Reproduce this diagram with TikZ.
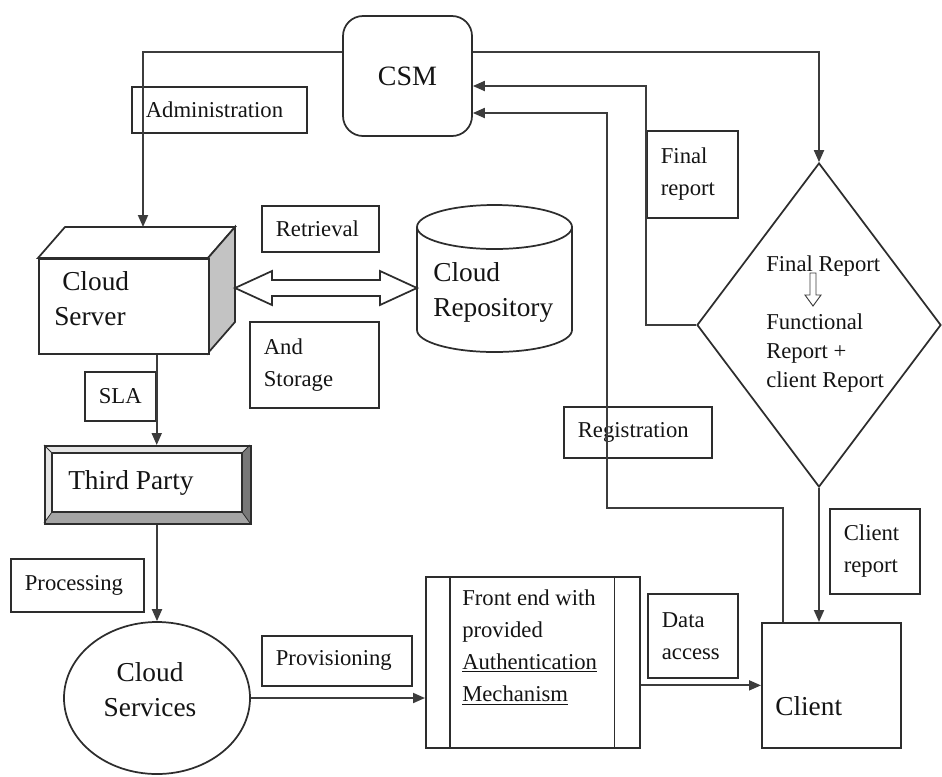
\documentclass[tikz,border=0pt]{standalone}
\usepackage{fontspec}
\setmainfont{Liberation Serif}
\usetikzlibrary{arrows.meta,calc,shapes.geometric}
\definecolor{ln}{RGB}{60,60,60}
\definecolor{bx}{RGB}{45,45,45}
\definecolor{txt}{RGB}{20,20,20}
\definecolor{sideg}{RGB}{195,195,195}
\definecolor{bevd}{RGB}{120,120,120}
\definecolor{bevm}{RGB}{165,165,165}
\definecolor{bevl}{RGB}{228,228,228}
\newcommand{\smallfnt}{\fontsize{17}{24}\selectfont\hyphenpenalty=10000 }
\newcommand{\bigfnt}{\fontsize{20.5}{26.5}\selectfont}
\newcommand{\fefnt}{\fontsize{17}{24.2}\selectfont}
\newcommand{\diafnt}{\fontsize{17}{21.75}\selectfont}
\newcommand{\csmfnt}{\fontsize{21}{25}\selectfont}
\begin{document}
\begin{tikzpicture}[x=0.75pt,y=-0.75pt,
  conn/.style={draw=ln, line width=1.4pt},
  arr/.style={conn, -{Triangle[length=9pt,width=7.5pt]}},
  lbl/.style 2 args={draw=bx, line width=1.3pt, inner xsep=10.5pt, inner ysep=0pt, align=left, anchor=north west, text width=#1, minimum height=#2, font=\smallfnt, text=txt},
  txtnode/.style={inner sep=0pt, text=txt, align=left},
  shp/.style={draw=bx, line width=1.3pt}
]
\fill[white] (0,0) rectangle (942,776);
\useasboundingbox (0,0) rectangle (942,776);

% CSM
\node[shp, rounded corners=15pt, minimum width=96.75pt, minimum height=90pt, font=\csmfnt, text=txt] (csm) at (407.5,76) {CSM};

% Cloud Server cube
\filldraw[shp, fill=white] (38,258) -- (65,227) -- (235,227) -- (208,258) -- cycle;
\filldraw[shp, fill=sideg] (208,258) -- (235,227) -- (235,322) -- (208,353) -- cycle;
\node[shp, fill=white, anchor=north west, minimum width=127.5pt, minimum height=71.25pt, inner sep=0pt] (server) at (38,258) {};
\node[txtnode, anchor=north west, font=\bigfnt] (servertxt) at (54,271) {\hspace*{6pt}Cloud\\Server};
\coordinate (srvTop) at (143,227);
\coordinate (srvR) at (235,288);

% Cloud Repository
\draw[shp] (417,227) -- (417,330) arc[start angle=180, end angle=0, x radius=77.5, y radius=22] -- (572,227);
\draw[shp, fill=white] (494.5,227) ellipse [x radius=77.5, y radius=22];
\node[txtnode, anchor=north west, font=\bigfnt] (repotxt) at (433,262) {Cloud\\Repository};
\coordinate (repoW) at (417,288);

% double hollow arrow
\draw[shp, fill=white] (srvR) -- (272,271) -- (272,280) -- (380,280) -- (380,271) -- (repoW) -- (380,305) -- (380,296) -- (272,296) -- (272,305) -- cycle;

% label boxes
\node[lbl={110.25pt}{34.5pt}] (adm) at (131,86) {Administration};
\node[lbl={66.75pt}{34.5pt}] (retr) at (261,205) {Retrieval};
\node[lbl={75.75pt}{64.5pt}] (stor) at (249,321) {And\\Storage};
\node[lbl={32.25pt}{36.75pt}] (sla) at (84,371) {SLA};
\node[lbl={78.75pt}{39.75pt}] (proc) at (10,558) {Processing};
\node[lbl={91.5pt}{37.5pt}] (prov) at (261,635) {Provisioning};
\node[lbl={46.5pt}{63pt}] (data) at (647,593) {Data\\access};
\node[lbl={47.25pt}{65.25pt}] (frep) at (646,130) {Final\\report};
\node[lbl={90pt}{38.25pt}] (reg) at (563,406) {Registration};
\node[lbl={46.5pt}{63.75pt}] (crep) at (829,508) {Client\\report};

% Third Party beveled box
\fill[bevl] (44,445) -- (250,445) -- (242,453) -- (52,453) -- (52,512) -- (44,523) -- cycle;
\fill[bevd] (250,445) -- (250,523) -- (242,512) -- (242,453) -- cycle;
\fill[bevm] (44,523) -- (250,523) -- (242,512) -- (52,512) -- cycle;
\node[shp, anchor=north west, minimum width=154.5pt, minimum height=58.5pt, inner sep=0pt] (tp) at (44,445) {};
\draw[draw=bx, line width=0.8pt] (52,453) rectangle (242,512);
\draw[draw=bx, line width=0.6pt] (44,445) -- (52,453) (250,445) -- (242,453) (44,523) -- (52,512) (250,523) -- (242,512);
\node[txtnode, anchor=base west, font=\bigfnt] (tptxt) at (68,489) {Third Party};

% Cloud Services
\node[shp, ellipse, minimum width=139.5pt, minimum height=114pt, inner sep=0pt] (cs) at (157,698) {};
\node[txtnode, align=center, anchor=north, font=\bigfnt] (cstxt) at (150,662) {Cloud\\Services};

% Front end
\node[shp, anchor=north west, minimum width=160.5pt, minimum height=128.25pt, inner sep=0pt] (fe) at (425,576) {};
\draw[draw=bx, line width=0.9pt] ($(fe.north west)+(25,0)$) -- ($(fe.south west)+(25,0)$);
\draw[draw=bx, line width=0.9pt] ($(fe.north east)+(-26,0)$) -- ($(fe.south east)+(-26,0)$);
\node[txtnode, anchor=north west, font=\fefnt] (fetxt) at (462,589) {Front end with\\provided\\\underline{Authentication}\\\underline{Mechanism}};

% Client
\node[shp, anchor=north west, minimum width=104.25pt, minimum height=93.75pt, inner sep=0pt] (client) at (761,622) {};
\node[txtnode, anchor=base west, font=\bigfnt] (clienttxt) at (775,715) {Client};

% Diamond
\node[shp, diamond, minimum width=183pt, minimum height=243pt, inner sep=0pt] (dia) at (819,325) {};
\node[txtnode, anchor=north west, font=\diafnt] (diatxt) at (766,255) {Final Report\\~\\Functional\\Report +\\client Report};
\draw[draw=ln, line width=0.7pt, fill=white] (810,273) -- (816,273) -- (816,295) -- (821,295) -- (813,306) -- (805,295) -- (810,295) -- cycle;

% connectors
\draw[arr] ($(csm.north west)!0.3!(csm.south west)$) -| (srvTop);
\draw[arr] ($(csm.east)+(0,-24)$) -| (dia.north);
\draw[arr] (dia.west) -| (frep.west) |- ($(csm.east)+(0,10)$);
\coordinate (regc) at (607,508);
\draw[arr] ($(client.north west)+(22,0)$) |- (regc) |- ($(csm.east)+(0,37)$);
\draw[arr] (dia.south) -- (dia.south |- client.north);
\draw[arr] (server.south -| sla.east) -- (tp.north -| sla.east);
\draw[arr] (tp.south -| cs.north) -- (cs.north);
\draw[arr] (cs.east) -- (cs.east -| fe.west);
\draw[arr] (client.west -| fe.east) -- (client.west);
\end{tikzpicture}
\end{document}
